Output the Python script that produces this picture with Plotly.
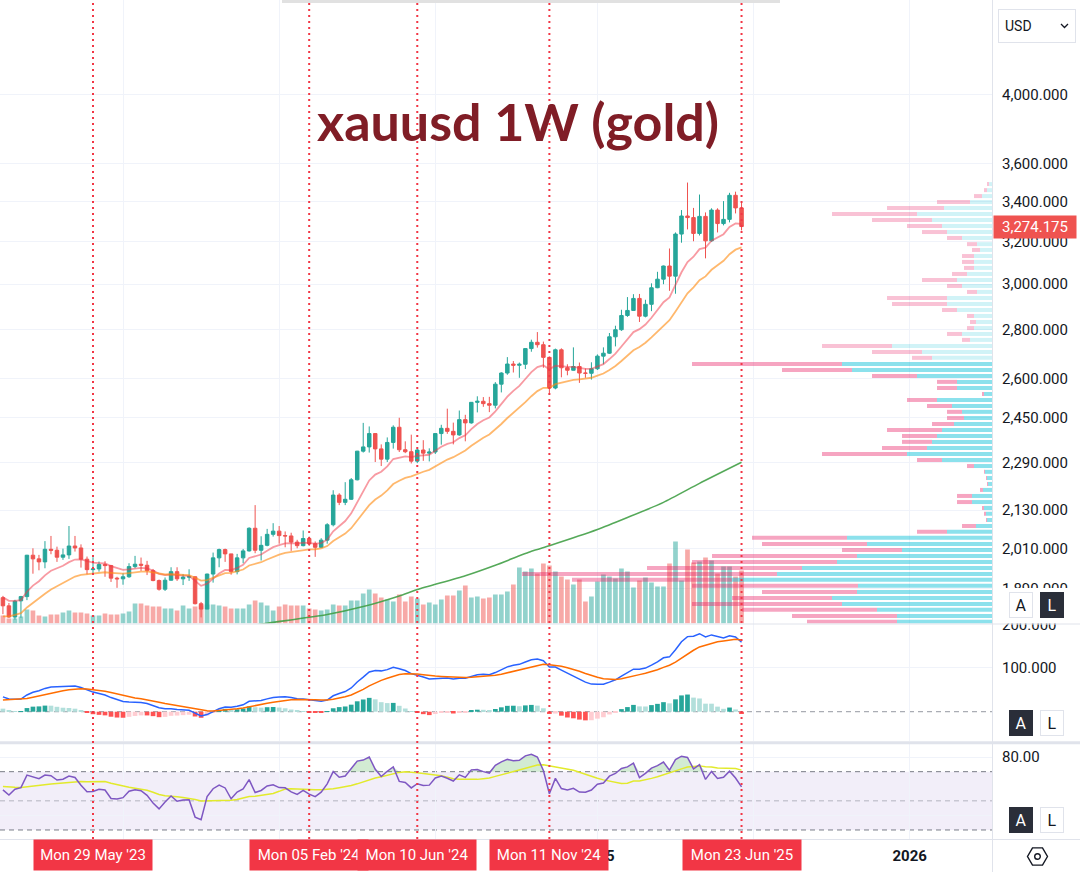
import math
import numpy as np
import pandas as pd
import plotly.graph_objects as go

W, H = 1080, 872
PLOT_RIGHT = 992  # px, right edge of the chart panes

# ---------------- data ----------------
DATES = pd.date_range("2023-02-13", "2025-06-23", freq="W-MON")

OPEN = [1865, 1842, 1811, 1856, 1868, 1989, 1978, 1969, 2007, 2004,
        1983, 1990, 2017, 2011, 1977, 1946, 1948, 1961, 1958, 1921,
        1919, 1925, 1955, 1962, 1959, 1943, 1914, 1889, 1915, 1940,
        1919, 1924, 1925, 1848, 1833, 1933, 1981, 2006, 1993, 1940,
        1981, 2002, 2072, 2004, 2019, 2053, 2063, 2049, 2048, 2029,
        2018, 2040, 2024, 2013, 2035, 2083, 2179, 2155, 2165, 2230,
        2329, 2344, 2392, 2337, 2301, 2360, 2415, 2334, 2327, 2294,
        2333, 2322, 2326, 2392, 2411, 2400, 2387, 2443, 2431, 2508,
        2512, 2503, 2497, 2578, 2622, 2658, 2653, 2657, 2721, 2747,
        2737, 2685, 2563, 2716, 2643, 2633, 2648, 2622, 2621, 2639,
        2690, 2702, 2770, 2800, 2861, 2883, 2936, 2858, 2910, 2984,
        3023, 3084, 3037, 3237, 3327, 3319, 3240, 3325, 3204, 3357,
        3289, 3310, 3433, 3368]
HIGH = [1870, 1850, 1859, 1870, 1990, 2010, 1990, 2032, 2048, 2015,
        2009, 2079, 2048, 2022, 1985, 1983, 1970, 1971, 1960, 1925,
        1935, 1965, 1987, 1982, 1972, 1948, 1917, 1923, 1953, 1953,
        1933, 1947, 1926, 1853, 1934, 1997, 2009, 2009, 1993, 1993,
        2008, 2075, 2146, 2047, 2070, 2088, 2079, 2062, 2058, 2036,
        2065, 2046, 2031, 2041, 2088, 2195, 2185, 2222, 2236, 2330,
        2431, 2418, 2393, 2353, 2378, 2422, 2450, 2364, 2388, 2338,
        2368, 2339, 2393, 2424, 2484, 2432, 2477, 2461, 2509, 2531,
        2528, 2529, 2586, 2625, 2686, 2670, 2664, 2722, 2758, 2790,
        2750, 2689, 2721, 2722, 2657, 2726, 2664, 2640, 2665, 2697,
        2726, 2786, 2817, 2886, 2942, 2955, 2956, 2930, 3004, 3057,
        3086, 3167, 3245, 3357, 3500, 3368, 3437, 3345, 3366, 3366,
        3403, 3446, 3452, 3398]
LOW = [1819, 1809, 1804, 1809, 1858, 1934, 1944, 1950, 1992, 1969,
       1975, 1978, 2000, 1952, 1932, 1932, 1940, 1925, 1910, 1893,
       1902, 1922, 1950, 1942, 1930, 1912, 1885, 1884, 1914, 1913,
       1901, 1913, 1846, 1810, 1833, 1908, 1953, 1969, 1931, 1932,
       1965, 2000, 1995, 1973, 2016, 2046, 2024, 2013, 2002, 2010,
       2016, 2017, 1984, 2011, 2024, 2078, 2146, 2146, 2163, 2228,
       2324, 2324, 2291, 2277, 2291, 2338, 2326, 2322, 2286, 2287,
       2295, 2293, 2319, 2352, 2391, 2353, 2384, 2364, 2428, 2470,
       2491, 2471, 2485, 2546, 2615, 2624, 2603, 2638, 2708, 2725,
       2643, 2537, 2558, 2605, 2613, 2632, 2583, 2603, 2596, 2634,
       2657, 2699, 2730, 2795, 2855, 2881, 2833, 2853, 2880, 2982,
       3000, 2970, 2957, 3195, 3260, 3202, 3230, 3120, 3200, 3245,
       3280, 3295, 3340, 3255]
CLOSE = [1842, 1811, 1855, 1868, 1989, 1978, 1969, 2007, 2004, 1983,
         1990, 2017, 2011, 1977, 1946, 1948, 1961, 1958, 1921, 1919,
         1925, 1955, 1962, 1959, 1943, 1914, 1889, 1915, 1940, 1919,
         1924, 1925, 1848, 1833, 1933, 1981, 2006, 1993, 1940, 1981,
         2002, 2072, 2004, 2019, 2053, 2063, 2049, 2048, 2029, 2018,
         2040, 2024, 2013, 2035, 2083, 2179, 2155, 2165, 2230, 2329,
         2344, 2392, 2337, 2301, 2360, 2415, 2334, 2327, 2294, 2333,
         2322, 2326, 2392, 2411, 2400, 2387, 2443, 2431, 2508, 2512,
         2503, 2497, 2578, 2622, 2658, 2653, 2657, 2721, 2747, 2737,
         2685, 2563, 2716, 2643, 2633, 2648, 2622, 2621, 2639, 2690,
         2702, 2770, 2800, 2861, 2883, 2936, 2858, 2910, 2984, 3023,
         3084, 3037, 3237, 3327, 3319, 3240, 3325, 3204, 3357, 3289,
         3310, 3433, 3368, 3274.175]
VOLUME = [24, 15, 15, 21, 42, 39, 24, 21, 27, 27,
          33, 39, 33, 33, 30, 24, 24, 30, 27, 27,
          30, 36, 60, 60, 54, 51, 51, 45, 45, 39,
          54, 45, 51, 54, 57, 57, 54, 51, 45, 45,
          45, 57, 69, 63, 54, 39, 51, 57, 54, 54,
          54, 45, 42, 39, 42, 57, 54, 54, 69, 69,
          90, 102, 90, 78, 72, 66, 87, 66, 81, 75,
          57, 63, 57, 72, 84, 84, 99, 114, 78, 81,
          75, 78, 87, 87, 96, 117, 168, 156, 165, 150,
          180, 174, 156, 141, 132, 117, 132, 66, 81, 126,
          147, 141, 135, 165, 156, 108, 129, 138, 123, 111,
          111, 180, 246, 129, 222, 183, 186, 198, 189, 150,
          171, 171, 141, 159]

# indicator starting values at the first visible week
EMA_FAST_SEED, EMA_SLOW_SEED = 1866, 1813
MACD_EMA12_SEED, MACD_EMA26_SEED, MACD_SIGNAL_SEED = 1840, 1806, 27
RSI_GAIN_SEED, RSI_LOSS_SEED, RSI_MA_SEED = 21.0, 15.5, 60.0

LONG_MA_DATES = ["2023-10-16", "2023-12-18", "2024-02-26", "2024-04-08", "2024-05-20",
                 "2024-06-10", "2024-08-05", "2024-09-09", "2024-10-21", "2024-11-11",
                 "2025-01-06", "2025-02-10", "2025-03-24", "2025-05-05", "2025-06-23"]
LONG_MA_VALUES = [1772, 1794, 1818, 1840, 1870, 1888, 1928, 1959, 2001, 2018,
                  2068, 2106, 2155, 2218, 2290]

PROFILE_PRICE = [3492, 3460, 3429, 3398, 3367, 3337, 3307, 3277, 3247, 3218,
                 3188, 3160, 3131, 3103, 3075, 3047, 3019, 2992, 2965, 2938,
                 2911, 2885, 2859, 2833, 2807, 2782, 2757, 2732, 2707, 2683,
                 2658, 2634, 2610, 2587, 2563, 2540, 2517, 2494, 2472, 2449,
                 2427, 2405, 2383, 2362, 2340, 2319, 2298, 2277, 2257, 2236,
                 2216, 2196, 2176, 2156, 2137, 2118, 2098, 2079, 2061, 2042,
                 2023, 2005, 1987, 1969, 1951, 1933, 1916, 1899, 1881, 1864,
                 1847, 1831, 1814, 1798]
PROFILE_UP = [3, 5, 10, 22, 48, 75, 60, 50, 45, 30,
              15, 12, 18, 18, 18, 25, 35, 30, 15, 45,
              45, 35, 18, 16, 18, 30, 22, 100, 70, 60,
              150, 140, 75, 35, 35, 8, 55, 40, 30, 28,
              38, 50, 55, 60, 65, 85, 50, 18, 7, 5,
              4, 9, 20, 20, 8, 6, 5, 16, 45, 145,
              125, 90, 135, 155, 190, 215, 260, 134, 135, 160,
              150, 115, 95, 95]
PROFILE_DOWN = [2, 3, 8, 33, 57, 85, 60, 35, 25, 15,
                10, 8, 12, 12, 10, 15, 35, 15, 10, 60,
                55, 15, 7, 6, 7, 15, 8, 70, 50, 20,
                150, 70, 45, 20, 20, 2, 30, 25, 15, 17,
                22, 55, 35, 30, 45, 85, 25, 7, 1, 1,
                1, 3, 15, 15, 2, 2, 1, 14, 30, 95,
                105, 60, 145, 145, 155, 255, 160, 166, 95, 100,
                150, 135, 105, 90]
VALUE_AREA_HIGH = 2660

PRICE_TICKS = [4000, 3600, 3400, 3200, 3000, 2800, 2600, 2450, 2290, 2130, 2010, 1890]
MACD_TICKS = [200, 100]
RSI_TICKS = [80, 40]
RSI_TICK_TEXT = ["80.00", ""]          # the 40 label sits under the scale buttons
RSI_LEVELS = [70, 50, 30]
LAST_PRICE = 3274.175

MARK_DATES = ["2023-05-29", "2024-02-05", "2024-06-10", "2024-11-11", "2025-06-23"]
MARK_LABELS = ["Mon 29 May '23", "Mon 05 Feb '24", "Mon 10 Jun '24", "Mon 11 Nov '24", "Mon 23 Jun '25"]
# half-year time scale; the labels hidden under the date markers are left blank
TIME_TICKS = ["2023-07-03", "2024-01-01", "2024-07-01", "2025-01-06", "2025-07-07", "2026-01-05"]
TIME_LABELS = ["", "", "", "<b>2025</b>", "", "<b>2026</b>"]
X_RANGE = ["2023-02-09 14:10", "2026-04-10 23:00"]
TITLE = "xauusd 1W (gold)"

# ---------------- indicators ----------------
def ema(values, period, seed):
    a = 2.0 / (period + 1)
    out = [seed]
    for v in values[1:]:
        out.append(out[-1] + a * (v - out[-1]))
    return np.array(out)

close = np.array(CLOSE, dtype=float)
ema_fast = ema(close, 10, EMA_FAST_SEED)
ema_slow = ema(close, 20, EMA_SLOW_SEED)
macd = ema(close, 12, MACD_EMA12_SEED) - ema(close, 26, MACD_EMA26_SEED)
signal = ema(macd, 9, MACD_SIGNAL_SEED)
hist = macd - signal

ag, al = RSI_GAIN_SEED, RSI_LOSS_SEED
rsi = [100 - 100 / (1 + ag / al)]
for i in range(1, len(close)):
    ch = close[i] - close[i - 1]
    ag = (ag * 13 + max(ch, 0)) / 14
    al = (al * 13 + max(-ch, 0)) / 14
    rsi.append(100 - 100 / (1 + ag / al))
rsi = np.array(rsi)
padded = [RSI_MA_SEED] * 13 + list(rsi)
rsi_ma = np.array([np.mean(padded[i:i + 14]) for i in range(len(rsi))])

# ---------------- geometry helpers ----------------
def py(px):
    return 1 - px / H

def pxx(px):
    return px / W

XDOM = [0, PLOT_RIGHT / W]
MAIN_DOM = [py(623.5), 1]
MACD_DOM = [py(741), py(624)]
RSI_DOM = [py(839), py(744)]
LN_TOP, LN_BOT = 8.43738, 7.49183
MACD_RANGE = [-67.0, 200.6]
RSI_RANGE = [23.8, 89.0]
WEEK_MS = 7 * 86400000

GREEN, RED = "#26a69a", "#ef5350"
FONT = "Roboto"

fig = go.Figure()

# volume (base subplot, drawn beneath candles)
up = [c >= o for o, c in zip(OPEN, CLOSE)]
fig.add_trace(go.Bar(
    x=DATES, y=VOLUME, width=WEEK_MS * 0.78,
    marker=dict(color=["rgba(38,166,154,0.5)" if u else "rgba(239,83,80,0.5)" for u in up],
                line=dict(width=0)),
    xaxis="x", yaxis="y", hoverinfo="skip"))

# candles
fig.add_trace(go.Candlestick(
    x=DATES, open=OPEN, high=HIGH, low=LOW, close=CLOSE,
    increasing=dict(line=dict(color=GREEN, width=1), fillcolor=GREEN),
    decreasing=dict(line=dict(color=RED, width=1), fillcolor=RED),
    whiskerwidth=0, xaxis="x", yaxis="y2", hoverinfo="skip"))
fig.add_trace(go.Scatter(x=DATES, y=ema_fast, mode="lines",
                         line=dict(color="rgba(242,54,69,0.5)", width=1.8),
                         xaxis="x", yaxis="y2", hoverinfo="skip"))
fig.add_trace(go.Scatter(x=DATES, y=ema_slow, mode="lines",
                         line=dict(color="rgba(255,140,20,0.62)", width=1.8),
                         xaxis="x", yaxis="y2", hoverinfo="skip"))
fig.add_trace(go.Scatter(x=pd.to_datetime(LONG_MA_DATES), y=LONG_MA_VALUES, mode="lines",
                         line=dict(color="rgba(67,160,71,0.9)", width=1.6, shape="spline", smoothing=0.6),
                         xaxis="x", yaxis="y2", hoverinfo="skip"))

# volume profile (right-anchored rows)
ln_p = np.log(np.array(PROFILE_PRICE, dtype=float))
in_va = [p <= VALUE_AREA_HIGH for p in PROFILE_PRICE]
row_h = 4 / 659.4
fig.add_trace(go.Bar(
    y=ln_p, x=PROFILE_UP, base=[0] * len(PROFILE_UP), orientation="h", width=row_h,
    marker=dict(color=["rgba(0,188,212,0.45)" if v else "rgba(0,188,212,0.18)" for v in in_va],
                line=dict(width=0)),
    xaxis="x4", yaxis="y5", hoverinfo="skip"))
fig.add_trace(go.Bar(
    y=ln_p, x=PROFILE_DOWN, base=PROFILE_UP, orientation="h", width=row_h,
    marker=dict(color=["rgba(233,30,99,0.4)" if v else "rgba(233,30,99,0.27)" for v in in_va],
                line=dict(width=0)),
    xaxis="x4", yaxis="y5", hoverinfo="skip"))

# MACD
hcol = []
for i, h in enumerate(hist):
    prev = hist[i - 1] if i > 0 else h + 1
    if h >= 0:
        hcol.append("#26a69a" if h > prev else "#b2dfdb")
    else:
        hcol.append("#ff5252" if h < prev else "#ffcdd2")
fig.add_trace(go.Bar(x=DATES, y=hist, width=WEEK_MS * 0.78,
                     marker=dict(color=hcol, line=dict(width=0)),
                     xaxis="x2", yaxis="y3", hoverinfo="skip"))
fig.add_trace(go.Scatter(x=DATES, y=macd, mode="lines", line=dict(color="#2962ff", width=1.5),
                         xaxis="x2", yaxis="y3", hoverinfo="skip"))
fig.add_trace(go.Scatter(x=DATES, y=signal, mode="lines", line=dict(color="#ff6d00", width=1.5),
                         xaxis="x2", yaxis="y3", hoverinfo="skip"))

# RSI
fig.add_trace(go.Scatter(x=DATES, y=[RSI_LEVELS[0]] * len(DATES), mode="lines",
                         line=dict(width=0, color="rgba(0,0,0,0)"),
                         xaxis="x3", yaxis="y4", hoverinfo="skip"))
fig.add_trace(go.Scatter(x=DATES, y=np.maximum(rsi, RSI_LEVELS[0]), mode="lines",
                         line=dict(width=0, color="rgba(0,0,0,0)"), fill="tonexty",
                         fillcolor="rgba(76,175,80,0.25)",
                         xaxis="x3", yaxis="y4", hoverinfo="skip"))
fig.add_trace(go.Scatter(x=DATES, y=rsi_ma, mode="lines", line=dict(color="#e2ea2c", width=1.5),
                         xaxis="x3", yaxis="y4", hoverinfo="skip"))
fig.add_trace(go.Scatter(x=DATES, y=rsi, mode="lines", line=dict(color="#7e57c2", width=1.5),
                         xaxis="x3", yaxis="y4", hoverinfo="skip"))

# ---------------- axes ----------------
tickfont = dict(family=FONT, size=15, color="#131722")
grid = "#f0f3fa"
xcommon = dict(type="date", range=X_RANGE, domain=XDOM, tickmode="array", tickvals=TIME_TICKS,
               showgrid=True, gridcolor=grid, gridwidth=1, zeroline=False, showline=False, ticks="",
               automargin=False)
ycommon = dict(side="right", showline=False, zeroline=False, ticks="", tickfont=tickfont,
               showgrid=True, gridcolor=grid, ticklabelstandoff=9, tickmode="array", automargin=False)

fig.update_layout(
    width=W, height=H, margin=dict(l=0, r=0, t=0, b=0, pad=0, autoexpand=False),
    paper_bgcolor="white", plot_bgcolor="white", showlegend=False,
    barmode="overlay", boxgap=0.17, font=dict(family=FONT, size=15, color="#131722"),
    xaxis=dict(**xcommon, anchor="y", showticklabels=False, rangeslider=dict(visible=False)),
    yaxis=dict(domain=MAIN_DOM, range=[0, 623.5 * 3], visible=False, fixedrange=True, automargin=False),
    yaxis2=dict(**ycommon, overlaying="y", anchor="x", type="log",
                range=[LN_BOT / math.log(10), LN_TOP / math.log(10)],
                tickvals=PRICE_TICKS, ticktext=[f"{v:,.3f}" for v in PRICE_TICKS]),
    xaxis2=dict(**xcommon, anchor="y3", matches="x", showticklabels=False),
    yaxis3=dict(**ycommon, domain=MACD_DOM, anchor="x2", range=MACD_RANGE,
                tickvals=MACD_TICKS, ticktext=[f"{v:.3f}" for v in MACD_TICKS]),
    xaxis3=dict(**xcommon, anchor="y4", matches="x", showticklabels=True,
                ticktext=TIME_LABELS, tickfont=tickfont, ticklabelstandoff=6),
    yaxis4=dict(**ycommon, domain=RSI_DOM, anchor="x3", range=RSI_RANGE,
                tickvals=RSI_TICKS, ticktext=RSI_TICK_TEXT),
    xaxis4=dict(overlaying="x", anchor="y5", range=[PLOT_RIGHT, 0], visible=False, automargin=False),
    yaxis5=dict(overlaying="y", anchor="x4", range=[LN_BOT, LN_TOP], visible=False, automargin=False),
)

# ---------------- shapes ----------------
shapes = []
# RSI band and levels
shapes.append(dict(type="rect", xref="paper", yref="y4", x0=0, x1=XDOM[1], y0=RSI_LEVELS[2], y1=RSI_LEVELS[0],
                   fillcolor="rgba(126,87,194,0.1)", line=dict(width=0), layer="below"))
for lv in RSI_LEVELS:
    shapes.append(dict(type="line", xref="paper", yref="y4", x0=0, x1=XDOM[1], y0=lv, y1=lv,
                       line=dict(color="#787b86" if lv != 50 else "rgba(120,123,134,0.5)", width=1,
                                 dash="5px,4px"), layer="below"))
shapes.append(dict(type="line", xref="paper", yref="y3", x0=0, x1=XDOM[1], y0=0, y1=0,
                   line=dict(color="#9598a1", width=1, dash="5px,4px"), layer="below"))
# last price line
lp = math.log10(LAST_PRICE)
shapes.append(dict(type="line", xref="paper", yref="y2", x0=0, x1=XDOM[1], y0=lp, y1=lp,
                   line=dict(color=RED, width=1, dash="1px,2px"), layer="above"))
# white strips behind the scale buttons
for a, b in [(588, 623.5), (700, 740), (804, 838)]:
    shapes.append(dict(type="rect", xref="paper", yref="paper", x0=pxx(993), x1=1, y0=py(b), y1=py(a),
                       fillcolor="white", line=dict(width=0), layer="above"))
# separators
sep = "#e0e3eb"
shapes.append(dict(type="line", xref="paper", yref="paper", x0=0, x1=1, y0=py(624), y1=py(624),
                   line=dict(color=sep, width=1), layer="above"))
shapes.append(dict(type="line", xref="paper", yref="paper", x0=0, x1=1, y0=py(742.8), y1=py(742.8),
                   line=dict(color=sep, width=3), layer="above"))
shapes.append(dict(type="line", xref="paper", yref="paper", x0=0, x1=1, y0=py(839.5), y1=py(839.5),
                   line=dict(color=sep, width=1), layer="above"))
shapes.append(dict(type="line", xref="paper", yref="paper", x0=pxx(992.5), x1=pxx(992.5), y0=0, y1=1,
                   line=dict(color=sep, width=1), layer="above"))
# event markers
for d in MARK_DATES:
    shapes.append(dict(type="line", xref="x", yref="paper", x0=d, x1=d, y0=py(839), y1=1,
                       line=dict(color="#f23645", width=2, dash="2px,4px"), layer="above"))
# toolbar shadow at top
shapes.append(dict(type="rect", xref="paper", yref="paper", x0=pxx(282), x1=pxx(780), y0=py(3), y1=1,
                   fillcolor="#e1e1e1", line=dict(width=0), layer="above"))
# USD chevron
shapes.append(dict(type="path", xref="paper", yref="paper",
                   path=f"M {pxx(1061)} {py(24)} L {pxx(1064.5)} {py(27.5)} L {pxx(1068)} {py(24)}",
                   line=dict(color="#131722", width=1.3), layer="above"))
# settings hexagon icon
cx, cy, r = 1037.5, 856.5, 10
hexp = "M " + " L ".join(f"{pxx(cx + r * math.cos(math.radians(a)))} {py(cy + r * math.sin(math.radians(a)))}"
                         for a in range(0, 360, 60)) + " Z"
shapes.append(dict(type="path", xref="paper", yref="paper", path=hexp,
                   line=dict(color="#131722", width=1.4), layer="above"))
shapes.append(dict(type="circle", xref="paper", yref="paper", x0=pxx(cx - 2.8), x1=pxx(cx + 2.8),
                   y0=py(cy + 2.8), y1=py(cy - 2.8), line=dict(color="#131722", width=1.4), layer="above"))
fig.update_layout(shapes=shapes)

# ---------------- annotations ----------------
ann = []
ann.append(dict(text=f"<b>{TITLE}</b>", x=pxx(517.5), y=py(121), xref="paper", yref="paper",
                showarrow=False, font=dict(family="Lato", size=52, color="#801d26"),
                xanchor="center", yanchor="middle"))
ann.append(dict(text=f"{LAST_PRICE:,.3f}", x=pxx(993), y=lp, xref="paper", yref="y2", showarrow=False,
                xanchor="left", yanchor="middle", bgcolor=RED, borderpad=3, width=76, height=16,
                font=dict(family=FONT, size=15, color="white")))
for d, lab in zip(MARK_DATES, MARK_LABELS):
    ann.append(dict(text=lab, x=d, xref="x", y=py(855), yref="paper", showarrow=False,
                    xanchor="center", yanchor="middle", bgcolor="#f23645", borderpad=6,
                    width=106, height=18, font=dict(family=FONT, size=15, color="white")))
ann.append(dict(text="USD", x=pxx(998), y=py(26), xref="paper", yref="paper", showarrow=False,
                xanchor="left", yanchor="middle", align="left", width=64, height=20, borderpad=6,
                bordercolor=sep, borderwidth=1, font=dict(family=FONT, size=14, color="#131722")))
for cyb, dark in [(604.5, "L"), (723.3, "A"), (820.3, "A")]:
    for ch, cxb in [("A", 1021.3), ("L", 1051.5)]:
        is_dark = ch == dark
        ann.append(dict(text=ch, x=pxx(cxb), y=py(cyb), xref="paper", yref="paper", showarrow=False,
                        xanchor="center", yanchor="middle", width=16, height=18, borderpad=3,
                        bgcolor="#2a2e39" if is_dark else "white",
                        bordercolor="#2a2e39" if is_dark else sep, borderwidth=1,
                        font=dict(family=FONT, size=16, color="white" if is_dark else "#131722")))
fig.update_layout(annotations=ann)

fig.write_html("out.html")
